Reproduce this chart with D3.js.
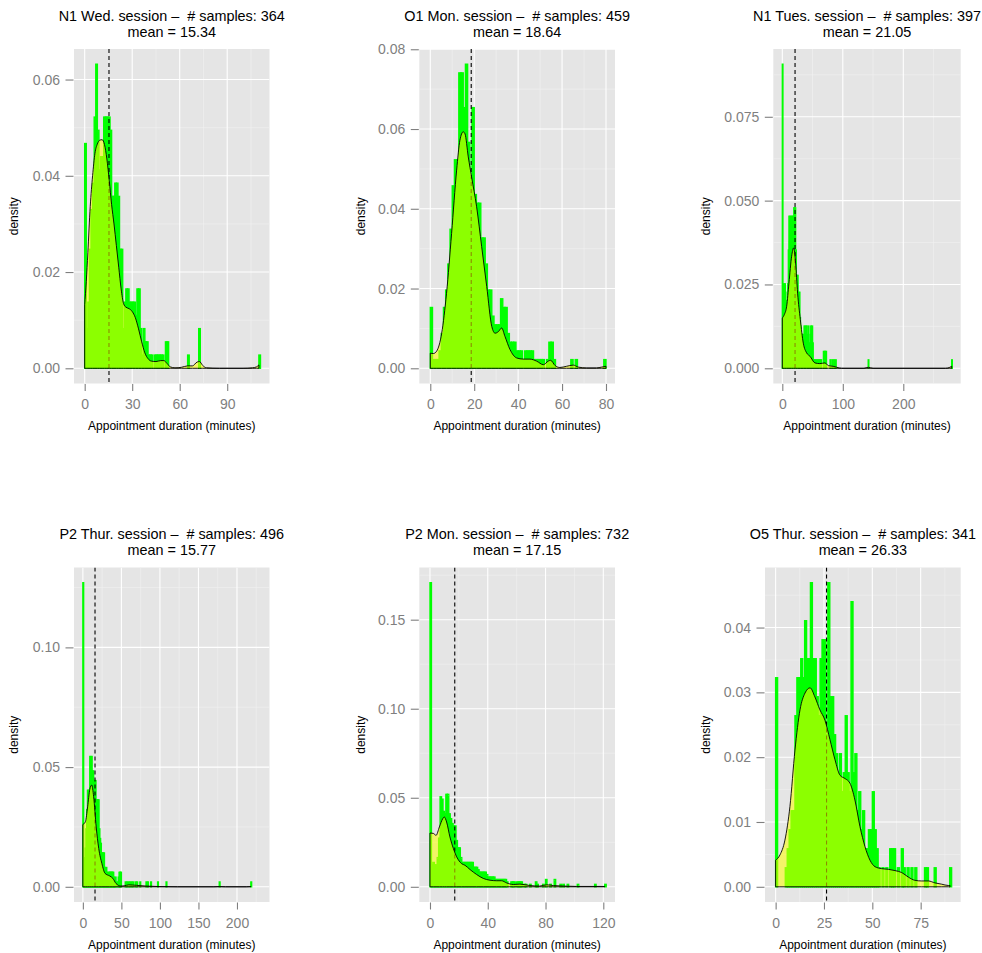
<!DOCTYPE html>
<html>
<head>
<meta charset="utf-8">
<script src="https://cdn.jsdelivr.net/npm/d3@7"></script>
<style>
body { margin:0; background:#fff; }
svg text { font-family:"Liberation Sans", Arial, Helvetica, sans-serif; }
</style>
</head>
<body>
<svg id="chart" width="982" height="953"></svg>
<script>

// ---- data ----
var sessions = ["N1 Wed.", "O1 Mon.", "N1 Tues.", "P2 Thur.", "P2 Mon.", "O5 Thur."];
var sampleSizes = [364, 459, 397, 496, 732, 341];
var means = [15.34, 18.64, 21.05, 15.77, 17.15, 26.33];

// histogram: [minute bin start, count], bins are 1 minute wide
var hist1 = [[0,17],[1,3],[2,5],[3,9],[4,12],[5,14],[6,19],[7,23],[8,18],[9,15],[10,16],[11,16],[12,19],[13,19],[14,19],[15,19],[16,18],[17,13],[18,13],[19,14],[20,14],[21,13],[22,9],[23,9],[24,3],[25,5],[26,6],[27,6],[28,5],[29,5],[30,5],[31,5],[32,4],[33,6],[34,6],[35,3],[36,1],[37,3],[38,2],[39,2],[40,1],[41,1],[42,1],[44,1],[45,1],[46,1],[47,1],[48,1],[49,1],[51,2],[52,2],[65,1],[72,3],[110,1]];
var hist2 = [[0,7],[1,1],[2,1],[3,1],[4,2],[5,4],[6,7],[7,9],[8,12],[9,16],[10,21],[11,24],[12,24],[13,34],[14,34],[15,30],[16,35],[17,26],[18,22],[19,30],[20,20],[21,19],[22,19],[23,15],[24,15],[25,12],[26,9],[27,9],[28,6],[29,5],[30,5],[31,5],[32,8],[33,7],[34,7],[35,4],[36,3],[37,3],[38,3],[39,2],[40,2],[41,2],[42,1],[43,2],[44,2],[45,2],[46,2],[47,1],[48,1],[49,1],[50,1],[51,1],[53,1],[54,3],[55,3],[56,1],[64,1],[66,1],[79,1]];
var hist3 = [[0,36],[1,3],[2,10],[3,6],[4,10],[5,6],[6,8],[7,7],[8,9],[9,10],[10,14],[11,18],[12,15],[13,18],[14,16],[15,18],[16,17],[17,18],[18,15],[19,19],[20,17],[21,19],[22,14],[23,11],[24,10],[25,11],[26,9],[27,7],[28,9],[29,6],[30,5],[31,4],[32,4],[33,3],[34,4],[35,3],[36,5],[37,4],[38,5],[39,3],[40,5],[41,4],[42,3],[43,5],[44,3],[45,2],[46,4],[47,5],[48,4],[49,5],[50,3],[52,1],[54,1],[56,1],[58,1],[60,1],[62,1],[64,1],[68,2],[70,2],[72,2],[79,1],[82,1],[85,1],[88,1],[142,1],[280,1]];
var hist4 = [[0,63],[1,4],[2,6],[3,8],[4,12],[5,16],[6,20],[7,20],[8,18],[9,27],[10,25],[11,27],[12,24],[13,24],[14,18],[15,22],[16,22],[17,18],[18,18],[19,18],[20,18],[21,12],[22,10],[23,9],[24,7],[25,7],[26,7],[27,7],[28,4],[29,3],[30,4],[31,3],[32,2],[33,3],[34,3],[35,3],[36,3],[37,3],[38,3],[39,3],[40,2],[41,1],[42,2],[44,1],[46,2],[47,3],[48,3],[49,3],[55,1],[57,1],[59,1],[61,1],[63,1],[65,1],[68,1],[70,1],[74,1],[82,1],[84,1],[88,1],[97,1],[108,1],[177,1],[218,1]];
var hist5 = [[0,125],[1,9],[2,10],[3,9],[4,9],[5,12],[6,20],[7,37],[8,36],[9,31],[10,30],[11,38],[12,38],[13,30],[14,28],[15,26],[16,25],[17,25],[18,19],[19,16],[20,16],[21,12],[22,10],[23,10],[24,10],[25,10],[26,10],[27,10],[28,10],[29,10],[30,8],[31,8],[32,8],[33,7],[34,6],[35,6],[36,6],[37,6],[38,6],[39,5],[40,4],[41,4],[42,4],[43,4],[44,4],[45,3],[46,3],[47,3],[48,3],[49,3],[50,3],[51,3],[52,3],[53,2],[56,2],[57,2],[58,2],[60,2],[61,2],[62,2],[63,2],[65,1],[66,1],[69,1],[73,2],[74,1],[78,1],[80,3],[83,1],[86,3],[90,1],[92,1],[95,1],[102,1],[114,1],[121,1]];
var hist6 = [[0,11],[5,1],[6,2],[7,3],[8,4],[9,4],[10,9],[11,11],[12,11],[13,12],[14,11],[15,14],[16,12],[17,12],[18,16],[19,12],[20,12],[21,10],[22,9],[23,12],[24,13],[25,13],[26,8],[27,16],[28,10],[29,10],[30,8],[31,7],[32,6],[33,7],[34,5],[35,6],[36,9],[37,6],[38,5],[39,15],[40,6],[41,7],[42,4],[43,5],[44,3],[45,4],[46,2],[47,2],[48,3],[49,3],[50,5],[51,3],[52,2],[53,1],[55,1],[57,1],[59,2],[60,2],[61,2],[63,1],[65,2],[66,1],[68,1],[70,1],[72,1],[77,1],[78,1],[82,1],[90,1]];

// kernel density curves: [minute, density]
var dens1 = [[0,0.0132],[1,0.018],[2,0.024],[3.5,0.0336],[5,0.040],[6.5,0.0447],[8,0.0466],[9.5,0.0474],[11,0.0475],[12.5,0.0465],[14,0.0435],[15.5,0.039],[17,0.034],[18.5,0.030],[20,0.0255],[21.5,0.021],[23,0.0165],[24.5,0.0135],[26,0.0127],[28,0.0124],[30,0.0118],[32,0.0105],[34,0.0082],[36,0.0055],[38,0.0032],[40,0.002],[42,0.0015],[45,0.0014],[48,0.0016],[50,0.0016],[52,0.001],[54,0.0003],[57,0.0001],[61,0.0002],[65,0.0005],[68,0.0005],[71,0.0013],[72.5,0.0014],[74.5,0.0006],[77,0.0001],[85,0],[100,0],[106,0.0001],[108.5,0.0003],[110,0.0007]];
var dens2 = [[0,0.0038],[1.4,0.0037],[2.9,0.0043],[5.2,0.0088],[7.4,0.0188],[9.7,0.0338],[12,0.0497],[13.5,0.0572],[15,0.0593],[15.8,0.0588],[17.3,0.053],[18.8,0.048],[21.1,0.0405],[23.4,0.0305],[25.7,0.0205],[28,0.0105],[29.5,0.0088],[31,0.0092],[32.5,0.0101],[34,0.008],[36.3,0.0047],[39.3,0.0026],[42.4,0.0023],[45.4,0.0023],[48.4,0.0018],[51.5,0.0009],[53.7,0.0018],[54.8,0.002],[56.8,0.0007],[59,0.0002],[62,0.0005],[65.1,0.0008],[67.4,0.0003],[71,0.0001],[75.7,0.0001],[78,0.0003],[80,0.0005]];
var dens3 = [[0,0.015],[3.3,0.016],[7.2,0.0185],[11,0.0254],[15.4,0.0334],[18.7,0.0359],[22,0.0314],[25.3,0.0224],[29.8,0.0145],[34.7,0.0075],[40.2,0.0046],[45.7,0.0036],[54,0.0016],[62,0.0014],[70.5,0.0016],[76,0.0008],[84,0.0006],[90,0.0003],[98,0],[135,0],[142,0.0003],[150,0],[270,0],[277,0.0003],[280,0.0006]];
var dens4 = [[0,0.026],[3.3,0.0272],[6.2,0.0334],[9,0.0407],[11.5,0.0425],[14,0.0376],[17.3,0.025],[20.6,0.016],[24.7,0.0097],[28.8,0.0056],[35,0.0045],[39,0.0035],[43,0.0014],[49.4,0.0003],[53.5,0.0004],[59.7,0.0008],[70,0.0006],[82,0.0003],[99,0.0001],[123,0],[170,0],[177,0.0001],[185,0],[212,0],[218,0.0001]];
var dens5 = [[0,0.0302],[2.3,0.03],[4.2,0.0289],[6.5,0.0336],[8.8,0.0382],[9.9,0.0392],[11.5,0.0364],[13.8,0.028],[16.2,0.0215],[18.5,0.0168],[21.9,0.013],[24.2,0.0121],[27.7,0.0097],[32.3,0.0069],[36.9,0.0047],[41.5,0.0037],[46.2,0.0034],[49.6,0.0034],[53,0.0022],[57.7,0.0013],[62.3,0.0015],[69.2,0.0007],[76,0.0004],[80.8,0.0011],[85.4,0.0007],[92.3,0.0004],[101.5,0.0002],[115,0.0002],[121,0.0002]];
var dens6 = [[0,0.0041],[2.2,0.0049],[4.8,0.0072],[7.4,0.0124],[10,0.0211],[12.6,0.0273],[15.2,0.0299],[17.8,0.0307],[20.3,0.0293],[22.9,0.0273],[25.5,0.0257],[28.1,0.0227],[30.7,0.0196],[33.3,0.0172],[35.9,0.0167],[38.4,0.016],[41,0.0134],[43.6,0.0093],[46.2,0.0062],[48.8,0.0041],[51.4,0.0031],[54.8,0.0028],[58.3,0.0027],[61.7,0.0025],[65.2,0.0022],[68.6,0.0015],[72,0.001],[75.5,0.0009],[79,0.0009],[82.4,0.0006],[85.9,0.0004],[89.3,0.0002],[90.2,0.0002]];

var xTicks = [[0,30,60,90],[0,20,40,60,80],[0,100,200],[0,50,100,150,200],[0,40,80,120],[0,25,50,75]];
var yTicks = [[0,0.02,0.04,0.06],[0,0.02,0.04,0.06,0.08],[0,0.025,0.05,0.075],[0,0.05,0.10],[0,0.05,0.10,0.15],[0,0.01,0.02,0.03,0.04]];
var yTickLabels = [["0.00","0.02","0.04","0.06"],["0.00","0.02","0.04","0.06","0.08"],["0.000","0.025","0.050","0.075"],["0.00","0.05","0.10"],["0.00","0.05","0.10","0.15"],["0.00","0.01","0.02","0.03","0.04"]];

var hists = [hist1, hist2, hist3, hist4, hist5, hist6];
var dens = [dens1, dens2, dens3, dens4, dens5, dens6];

// ---- layout (pixels) ----
var panels = [
	{left:74,    right:269.5, top:49,    bottom:383.5, yTitleX:18,    xDomain:[-6.75,116.7]},
	{left:419.3, right:615,   top:49,    bottom:383.5, yTitleX:364.7, xDomain:[-5.0,84.1]},
	{left:773.3, right:960.7, top:49,    bottom:383.5, yTitleX:709.7, xDomain:[-14.9,294.9]},
	{left:74,    right:269.5, top:567.5, bottom:902,   yTitleX:18,    xDomain:[-11.5,242.2]},
	{left:419.3, right:615,   top:567.5, bottom:902,   yTitleX:364.7, xDomain:[-7.4,128.1]},
	{left:765,   right:960.7, top:567.5, bottom:902,   yTitleX:709.7, xDomain:[-5.5,95.7]}
];

var svg = d3.select("#chart");
var fmt = d3.format(".2f");

function minorOf(ticks, dom){
	var s = ticks[1]-ticks[0];
	var m = [ticks[0]-s/2].concat(ticks.map(function(t){return t+s/2;}));
	return m.filter(function(v){return v>dom[0] && v<dom[1];});
}

panels.forEach(function(p, i){
	var n = sampleSizes[i];
	var bins = hists[i];
	var M = Math.max(d3.max(bins, function(d){return d[1];})/n, d3.max(dens[i], function(d){return d[1];}));

	var X = d3.scaleLinear().domain(p.xDomain).range([p.left, p.right]);
	var Y = d3.scaleLinear().domain([-0.05*M, 1.05*M]).range([p.bottom, p.top]);
	var cx = (p.left+p.right)/2;

	var g = svg.append("g");

	g.append("clipPath").attr("id","clip"+i).append("rect")
		.attr("x",p.left).attr("y",p.top).attr("width",p.right-p.left).attr("height",p.bottom-p.top);

	g.append("rect")
		.attr("x",p.left).attr("y",p.top).attr("width",p.right-p.left).attr("height",p.bottom-p.top)
		.style("fill","#E5E5E5");

	var inner = g.append("g").attr("clip-path","url(#clip"+i+")");

	// grid
	var yDom = Y.domain();
	inner.selectAll(".xminor").data(minorOf(xTicks[i], p.xDomain)).enter().append("line")
		.attr("x1",X).attr("x2",X).attr("y1",p.top).attr("y2",p.bottom)
		.style("stroke","#F2F2F2").style("stroke-width",0.6);
	inner.selectAll(".yminor").data(minorOf(yTicks[i], yDom)).enter().append("line")
		.attr("y1",Y).attr("y2",Y).attr("x1",p.left).attr("x2",p.right)
		.style("stroke","#F2F2F2").style("stroke-width",0.6);
	inner.selectAll(".xmajor").data(xTicks[i]).enter().append("line")
		.attr("x1",X).attr("x2",X).attr("y1",p.top).attr("y2",p.bottom)
		.style("stroke","#FFFFFF").style("stroke-width",1.1);
	inner.selectAll(".ymajor").data(yTicks[i]).enter().append("line")
		.attr("y1",Y).attr("y2",Y).attr("x1",p.left).attr("x2",p.right)
		.style("stroke","#FFFFFF").style("stroke-width",1.1);

	// histogram
	inner.selectAll(".bar").data(bins).enter().append("rect")
		.attr("x",function(d){return X(d[0]);})
		.attr("width",function(d){return X(d[0]+1)-X(d[0]);})
		.attr("y",function(d){return Y(d[1]/n);})
		.attr("height",function(d){return Y(0)-Y(d[1]/n);})
		.style("fill","#00FF00").style("stroke","#00FF00").style("stroke-width",1.4);

	// mean line
	inner.append("line")
		.attr("x1",X(means[i])).attr("x2",X(means[i])).attr("y1",p.top).attr("y2",p.bottom)
		.style("stroke","#000").style("stroke-width",1.1).style("stroke-dasharray","4,3");

	// density
	var area = d3.area()
		.x(function(d){return X(d[0]);})
		.y0(Y(0))
		.y1(function(d){return Y(d[1]);})
		.curve(d3.curveMonotoneX);
	inner.append("path").datum(dens[i])
		.attr("d",area)
		.style("fill","#FFFF00").style("fill-opacity",0.55)
		.style("stroke","#000").style("stroke-width",0.9);

	// axes
	var ya = g.append("g").attr("transform","translate("+(p.left-0.5)+",0)")
		.call(d3.axisLeft(Y).tickValues(yTicks[i]).tickSize(8).tickPadding(5.5)
			.tickFormat(function(d,k){return yTickLabels[i][k];}));
	var xa = g.append("g").attr("transform","translate(0,"+(p.bottom+0.5)+")")
		.call(d3.axisBottom(X).tickValues(xTicks[i]).tickSize(7).tickPadding(8.5)
			.tickFormat(d3.format("d")));
	[ya, xa].forEach(function(a){
		a.select(".domain").remove();
		a.selectAll(".tick line").style("stroke","#7F7F7F").style("stroke-width",1.1);
		a.selectAll(".tick text").style("fill","#7F7F7F").style("font-size","14px")
			.style("font-family","'Liberation Sans', Arial, sans-serif");
	});

	// titles
	g.append("text").attr("x",cx).attr("y",p.top-28.3)
		.attr("text-anchor","middle").style("font-size","14.4px").style("white-space","pre")
		.text(sessions[i]+" session –  # samples: "+n);
	g.append("text").attr("x",cx).attr("y",p.top-12.4)
		.attr("text-anchor","middle").style("font-size","14.4px")
		.text("mean = "+fmt(means[i]));

	g.append("text").attr("x",cx).attr("y",p.bottom+46.7)
		.attr("text-anchor","middle").style("font-size","12px")
		.text("Appointment duration (minutes)");

	g.append("text")
		.attr("transform","translate("+p.yTitleX+","+((p.top+p.bottom)/2)+") rotate(-90)")
		.attr("text-anchor","middle").style("font-size","12px")
		.text("density");
});

</script>
</body>
</html>
